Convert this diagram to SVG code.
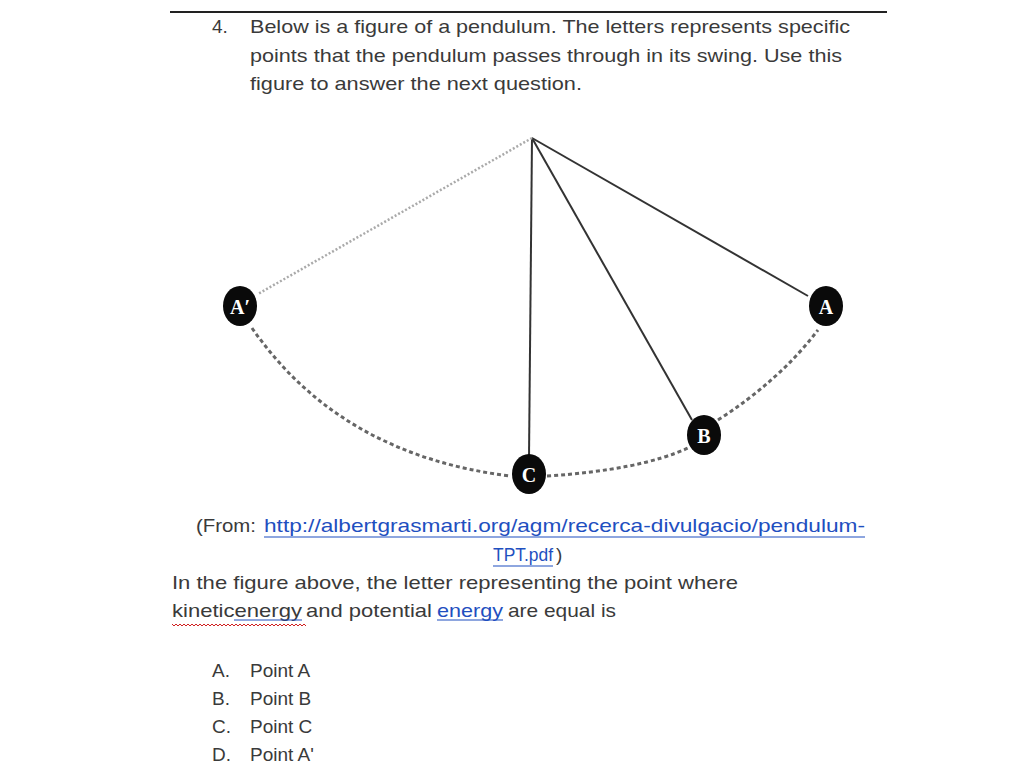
<svg xmlns="http://www.w3.org/2000/svg" width="1024" height="768" viewBox="0 0 1024 768">
<style>
.t{font-family:"Liberation Sans",Arial,sans-serif;font-size:19px;fill:#3a3a3a}
.l{fill:#1f4fc0}
.u{stroke:#1f4fc0;stroke-width:1.2}
.str{stroke:#333;stroke-width:2;fill:none}
.arc{stroke:#666;stroke-width:3;stroke-dasharray:4 3;fill:none}
.bob{fill:#0a0a0a}
.bt{font-family:"Liberation Serif","Times New Roman",serif;font-size:20px;font-weight:bold;fill:#fff;text-anchor:middle}
</style>
<rect width="1024" height="768" fill="#fff"/>
<line x1="170" y1="12" x2="887" y2="12" stroke="#222" stroke-width="2"/>
<text class="t" x="212" y="33">4.</text>
<text class="t" x="250" y="33" textLength="600" lengthAdjust="spacingAndGlyphs">Below is a figure of a pendulum. The letters represents specific</text>
<text class="t" x="250" y="62" textLength="592" lengthAdjust="spacingAndGlyphs">points that the pendulum passes through in its swing. Use this</text>
<text class="t" x="250" y="90" textLength="332" lengthAdjust="spacingAndGlyphs">figure to answer the next question.</text>
<g id="connectors">
<line class="str" x1="532" y1="138" x2="529" y2="458"/>
<line class="str" x1="532" y1="138" x2="692" y2="420"/>
<line class="str" x1="532" y1="138" x2="808" y2="296"/>
<line x1="532" y1="138" x2="258" y2="294" stroke="#aaa" stroke-width="2.5" stroke-dasharray="2 2"/>
<path class="arc" d="M252,328 Q340,455 510,476"/>
<path class="arc" d="M547,476 Q640,470 688,448"/>
<path class="arc" d="M718,420 Q780,380 818,330"/>
</g>
<g id="nodeAprime"><ellipse class="bob" cx="240" cy="306" rx="17" ry="20"/><text class="bt" x="240" y="314">A′</text></g>
<g id="nodeA"><ellipse class="bob" cx="826" cy="306" rx="17" ry="20"/><text class="bt" x="826" y="314">A</text></g>
<g id="nodeB"><ellipse class="bob" cx="704" cy="435" rx="17" ry="20"/><text class="bt" x="704" y="443">B</text></g>
<g id="nodeC"><ellipse class="bob" cx="529" cy="474" rx="17" ry="20"/><text class="bt" x="529" y="482">C</text></g>
<text class="t" x="196" y="532" textLength="60" lengthAdjust="spacingAndGlyphs">(From:</text>
<text class="t l" x="264" y="532" textLength="601" lengthAdjust="spacingAndGlyphs">http://albertgrasmarti.org/agm/recerca-divulgacio/pendulum-</text>
<line class="u" x1="264" y1="537" x2="865" y2="537"/>
<text class="t l" x="493" y="561" textLength="60" lengthAdjust="spacingAndGlyphs">TPT.pdf</text>
<line class="u" x1="493" y1="566" x2="553" y2="566"/>
<text class="t" x="556" y="561">)</text>
<text class="t" x="172" y="589" textLength="566" lengthAdjust="spacingAndGlyphs">In the figure above, the letter representing the point  where</text>
<text class="t" x="172" y="617" textLength="130" lengthAdjust="spacingAndGlyphs">kineticenergy</text>
<path d="M172,624 l2,2 l2,-2 l2,2 l2,-2 l2,2 l2,-2 l2,2 l2,-2 l2,2 l2,-2 l2,2 l2,-2 l2,2 l2,-2 l2,2 l2,-2 l2,2 l2,-2 l2,2 l2,-2 l2,2 l2,-2 l2,2 l2,-2 l2,2 l2,-2 l2,2 l2,-2 l2,2 l2,-2 l2,2 l2,-2 l2,2 l2,-2 l2,2 l2,-2 l2,2 l2,-2 l2,2 l2,-2 l2,2 l2,-2 l2,2 l2,-2 l2,2 l2,-2 l2,2 l2,-2 l2,2 l2,-2 l2,2 l2,-2 l2,2 l2,-2 l2,2 l2,-2 l2,2 l2,-2 l2,2 l2,-2 l2,2 l2,-2 l2,2 l2,-2 l2,2 l2,-2 l2,2" stroke="#d02020" stroke-width="1" fill="none"/>
<line class="u" x1="234" y1="620" x2="302" y2="620"/>
<text class="t" x="306" y="617" textLength="126" lengthAdjust="spacingAndGlyphs">and potential</text>
<text class="t l" x="437" y="617" textLength="66" lengthAdjust="spacingAndGlyphs">energy</text>
<line class="u" x1="437" y1="620" x2="503" y2="620"/>
<text class="t" x="508" y="617" textLength="108" lengthAdjust="spacingAndGlyphs">are equal is</text>
<text class="t" x="212" y="677">A.</text><text class="t" x="250" y="677">Point A</text>
<text class="t" x="212" y="705">B.</text><text class="t" x="250" y="705">Point B</text>
<text class="t" x="212" y="733">C.</text><text class="t" x="250" y="733">Point C</text>
<text class="t" x="212" y="761">D.</text><text class="t" x="250" y="761">Point A'</text>
</svg>
